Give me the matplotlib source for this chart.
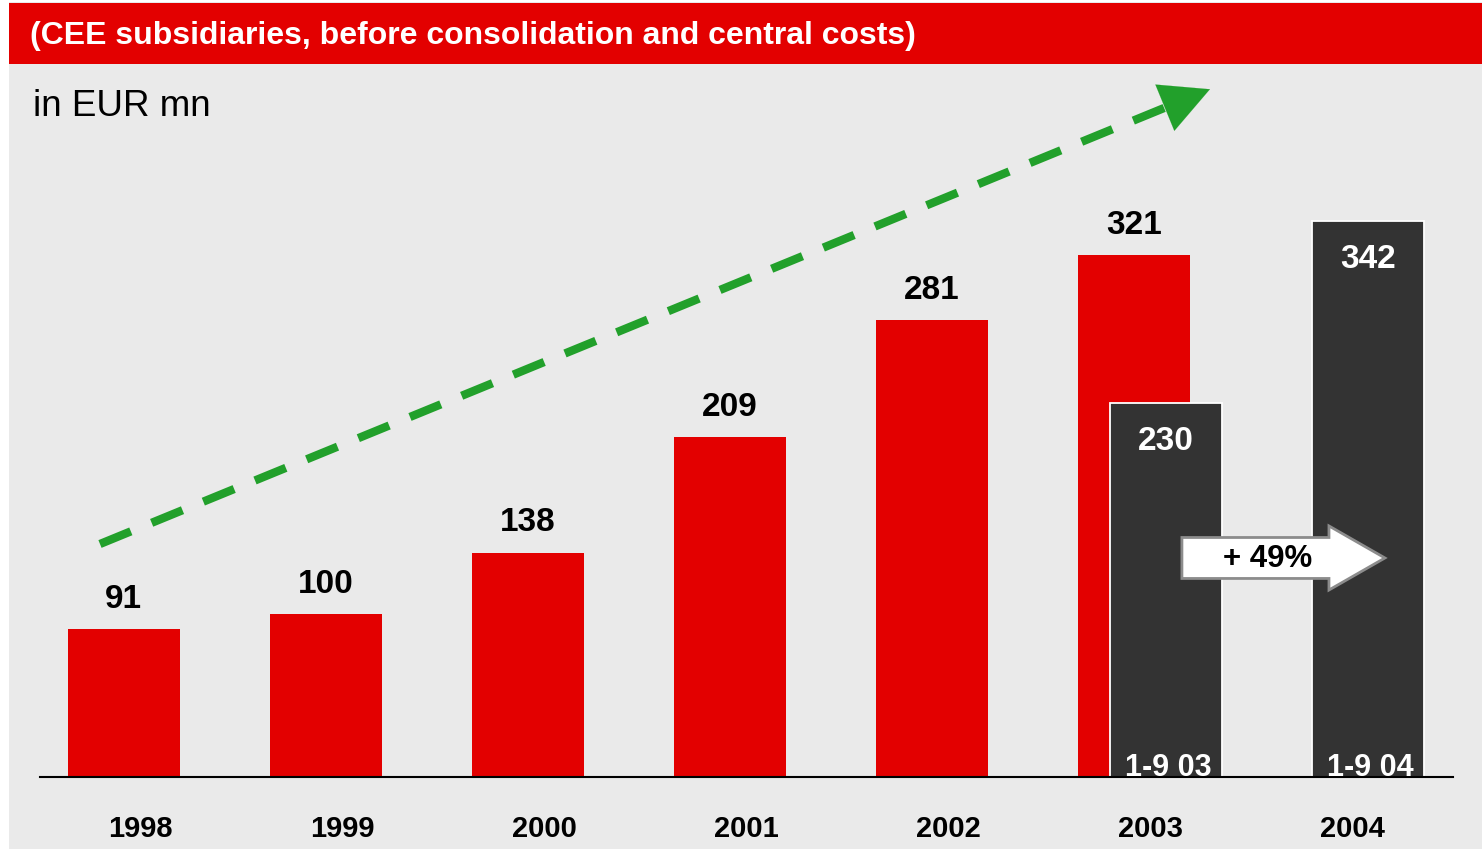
import matplotlib.pyplot as plt
from matplotlib.patches import Rectangle, FancyArrow

plt.rcParams['font.family'] = ['Liberation Sans', 'DejaVu Sans']

years = ['1998', '1999', '2000', '2001', '2002', '2003', '2004']
full_year = [91, 100, 138, 209, 281, 321]          # red bars, 1998-2003
nine_month = [230, 342]                             # dark bars, 1-9 03 and 1-9 04
nine_month_labels = ['1-9 03', '1-9 04']
growth_label = '+ 49%'

red = '#E30000'
dark = '#333333'
green = '#22A02B'
bg = '#EAEAEA'

W, H = 1482, 853
fig = plt.figure(figsize=(W / 100, H / 100), dpi=100)
fig.patch.set_facecolor('white')

# background panel and title bar
fig.patches.append(Rectangle((9 / W, 3 / H), 1 - 9 / W, (850 - 3) / H, transform=fig.transFigure,
                             facecolor=bg, edgecolor='none', zorder=-2))
fig.patches.append(Rectangle((9 / W, 1 - 65 / H), 1 - 9 / W, 61 / H, transform=fig.transFigure,
                             facecolor=red, edgecolor='none', zorder=-1))
fig.text(30 / W, 1 - 36 / H, '(CEE subsidiaries, before consolidation and central costs)',
         color='white', fontsize=23, fontweight='bold', va='center', ha='left')
fig.text(33 / W, 1 - 107 / H, 'in EUR mn', color='black', fontsize=26.5, va='center', ha='left')

ax = fig.add_axes([40 / W, (853 - 778) / H, 1413 / W, (778 - 65) / H])
ax.set_facecolor('none')
ax.set_xlim(-0.495, 6.5)
ax.set_ylim(0, 438.5)

width = 0.555
off = 0.08
xr = [i - off for i in range(len(full_year))]
ax.bar(xr, full_year, width=width, color=red, zorder=2)
for x, v in zip(xr, full_year):
    ax.text(x, v + 19, str(v), ha='center', va='center', fontsize=24, fontweight='bold')

xd = [5 + off, 6 + off]
ax.bar(xd, nine_month, width=width, color=dark, edgecolor='white', linewidth=1.3, zorder=3)
for x, v, lab in zip(xd, nine_month, nine_month_labels):
    ax.text(x, v - 23, str(v), ha='center', va='center', fontsize=24, fontweight='bold',
            color='white', zorder=5)
    ax.text(x + 0.01, 1, lab, ha='center', va='baseline', fontsize=22, fontweight='bold',
            color='white', zorder=5)

# growth block arrow
ax.add_patch(FancyArrow(5.158, 134.7, 1.005, 0, width=25.2, head_width=39.4, head_length=0.277,
                        length_includes_head=True, facecolor='white', edgecolor='#8C8C8C',
                        linewidth=2, zorder=6))
ax.text(5.584, 134.7, growth_label, ha='center', va='center', fontsize=22.5, fontweight='bold', zorder=7)

# green dashed trend arrow
x0, y0 = -0.198, 143.3
x1, y1 = 5.297, 423.0
t = 0.97
ax.plot([x0, x0 + t * (x1 - x0)], [y0, y0 + t * (y1 - y0)], color=green, lw=6,
        linestyle=(0, (4, 2.7)), solid_capstyle='butt', dash_capstyle='butt', zorder=4)
ax.annotate('', xy=(x1, y1), xytext=(x0 + 0.965 * (x1 - x0), y0 + 0.965 * (y1 - y0)),
            arrowprops=dict(arrowstyle='-|>,head_length=1.75,head_width=0.9', color=green,
                            lw=0.1, mutation_scale=20, shrinkA=0, shrinkB=0), zorder=4)

for s in ['top', 'left', 'right']:
    ax.spines[s].set_visible(False)
ax.spines['bottom'].set_linewidth(1.5)
ax.spines['bottom'].set_zorder(4)
ax.set_yticks([])
ax.set_xticks(range(len(years)))
ax.set_xticklabels(years, fontsize=21, fontweight='bold')
ax.tick_params(axis='x', length=0, pad=27)

fig.savefig('out.png', dpi=100, facecolor=fig.get_facecolor())
